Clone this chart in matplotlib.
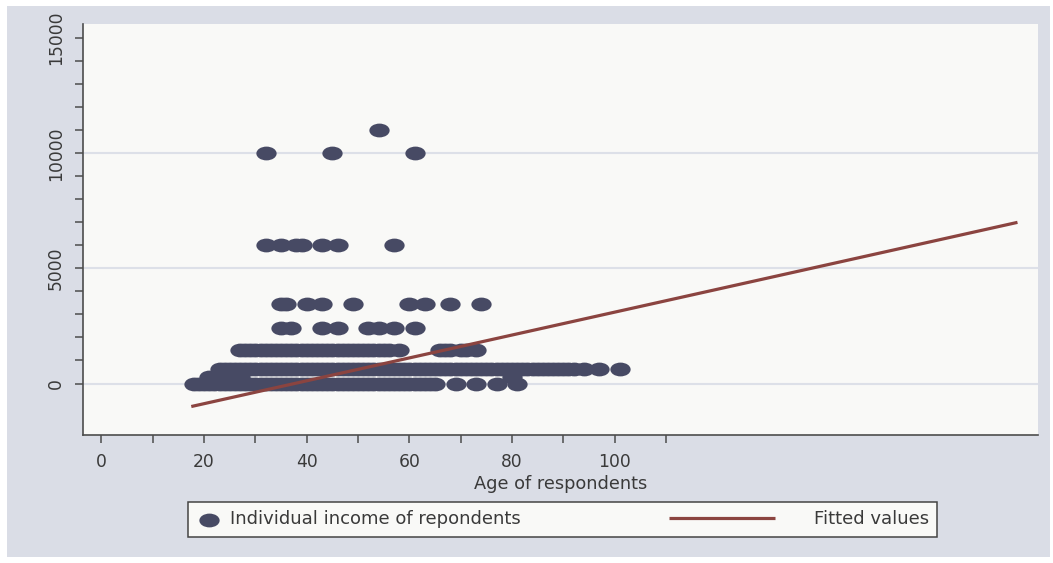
import numpy as np
import matplotlib
matplotlib.use("Agg")
import matplotlib.pyplot as plt
from matplotlib.path import Path
from matplotlib.transforms import Affine2D
from matplotlib.lines import Line2D
from matplotlib.patches import Rectangle
from matplotlib.legend_handler import HandlerLine2D

# ---------------- data ----------------
# ages of respondents at each income level
ages_0 = [18, 19, 20, 21, 22, 23, 24, 25, 26, 27, 28, 29, 30, 31, 32, 33, 34, 35,
          36, 37, 38, 39, 40, 41, 42, 43, 44, 45, 46, 47, 48, 49, 50, 51, 52, 53,
          54, 55, 56, 57, 58, 59, 60, 61, 62, 63, 64, 65, 69, 73, 77, 81]
ages_300 = [21, 24, 27, 80]
ages_650 = [23, 24, 25, 26, 27, 28, 29, 30, 31, 32, 33, 34, 35, 36, 37, 38, 39, 40,
            41, 42, 43, 44, 45, 46, 47, 48, 49, 50, 51, 52, 53, 54, 55, 56, 57, 58,
            59, 60, 61, 62, 63, 64, 65, 66, 67, 68, 69, 70, 71, 72, 73, 74, 75, 76,
            77, 78, 79, 80, 81, 82, 83, 84, 85, 86, 87, 88, 89, 90, 91, 92, 94,
            97, 101]
ages_1450 = [27, 28, 29, 30, 31, 32, 33, 34, 35, 36, 37, 38, 39, 40, 41, 42, 43, 44,
             45, 46, 47, 48, 49, 50, 51, 52, 53, 54, 55, 56, 58,
             66, 67, 68, 70, 71, 73]
ages_2400 = [35, 37, 43, 46, 52, 54, 57, 61]
ages_3450 = [35, 36, 40, 43, 49, 60, 63, 68, 74]
ages_6000 = [32, 35, 38, 39, 43, 46, 57]
ages_10000 = [32, 45, 61]
ages_11000 = [54]

levels = [0, 300, 650, 1450, 2400, 3450, 6000, 10000, 11000]
rows = [ages_0, ages_300, ages_650, ages_1450, ages_2400, ages_3450,
        ages_6000, ages_10000, ages_11000]

# fitted regression line (end points)
fit_age = [17.5, 178.5]
fit_val = [-1000, 7000]

x_labeled = [0, 20, 40, 60, 80, 100]
x_minor = [10, 30, 50, 70, 90, 110]
y_labeled = [0, 5000, 10000, 15000]
y_minor = [1000, 2000, 3000, 4000, 6000, 7000, 8000, 9000, 11000, 12000, 13000, 14000]
grid_vals = [0, 5000, 10000]

age = np.concatenate([np.array(r, dtype=float) for r in rows])
income = np.concatenate([np.full(len(r), lv, dtype=float) for r, lv in zip(rows, levels)])

# ---------------- style ----------------
outer_bg = "#dadde6"
plot_bg = "#f9f9f7"
dot_col = "#474a64"
line_col = "#8b4440"
txt_col = "#3a3a3a"
axis_col = "#4d4d4d"

plt.rcParams["font.family"] = ["DejaVu Sans"]

# stretched dots, like the original
ellipse = Affine2D().scale(1.0, 0.68).transform_path(Path.unit_circle())

fig = plt.figure(figsize=(10.53, 5.63), dpi=100, facecolor="white")
fig.patches.append(Rectangle((7 / 1053, 6 / 563), 1043 / 1053, 551 / 563,
                             transform=fig.transFigure, facecolor=outer_bg,
                             edgecolor="none", zorder=-10))

ax = fig.add_axes([83 / 1053, 1 - 435 / 563, 955 / 1053, 411 / 563])
ax.set_facecolor(plot_bg)

for g in grid_vals:
    ax.axhline(g, color="#dde0e8", lw=1.5, zorder=1)

ax.scatter(age, income, s=14.6 ** 2, marker=ellipse, color=dot_col,
           linewidths=0, zorder=2, label="Individual income of repondents")
ax.plot(fit_age, fit_val, color=line_col, lw=2.3, zorder=3,
        solid_capstyle="butt", label="Fitted values")

ax.set_xlim(-3.6, 182.5)
ax.set_ylim(-2237, 15617)

ax.set_xticks(x_labeled)
ax.set_xticks(x_minor, minor=True)
ax.set_yticks(y_labeled)
ax.set_yticks(y_minor, minor=True)
ax.set_yticklabels([str(v) for v in y_labeled], rotation=90, va="center")

for which in ("major", "minor"):
    ax.tick_params(axis="both", which=which, length=6, width=1.1,
                   color=axis_col, direction="out")
ax.tick_params(axis="both", which="major", labelsize=12.3, labelcolor=txt_col, pad=7)

for s in ("top", "right"):
    ax.spines[s].set_visible(False)
for s in ("left", "bottom"):
    ax.spines[s].set_color(axis_col)
    ax.spines[s].set_linewidth(1.2)

ax.set_xlabel("Age of respondents", fontsize=12.8, color=txt_col, labelpad=3)


class LongLineHandler(HandlerLine2D):
    # draw the line sample longer, reaching left into the column gap
    def create_artists(self, legend, orig_handle, xdescent, ydescent,
                       width, height, fontsize, trans):
        y = (height - ydescent) / 2.0
        ln = Line2D([-xdescent - 80, -xdescent - 4], [y, y])
        self.update_prop(ln, orig_handle, legend)
        ln.set_transform(trans)
        return [ln]


handles, labels = ax.get_legend_handles_labels()
leg = fig.legend(handles, labels, loc="center", ncol=2, mode="expand",
                 bbox_to_anchor=(188 / 1053, 26 / 563, 749 / 1053, 35 / 563),
                 borderaxespad=0, fontsize=13, handlelength=1.4,
                 handletextpad=0.45, borderpad=0.45, fancybox=False,
                 framealpha=1, facecolor=plot_bg, edgecolor="#444444",
                 scatterpoints=1,
                 handler_map={handles[1]: LongLineHandler()})
leg.get_frame().set_linewidth(1.1)
for t in leg.get_texts():
    t.set_color(txt_col)

fig.savefig("out.png", dpi=100, facecolor=fig.get_facecolor())
